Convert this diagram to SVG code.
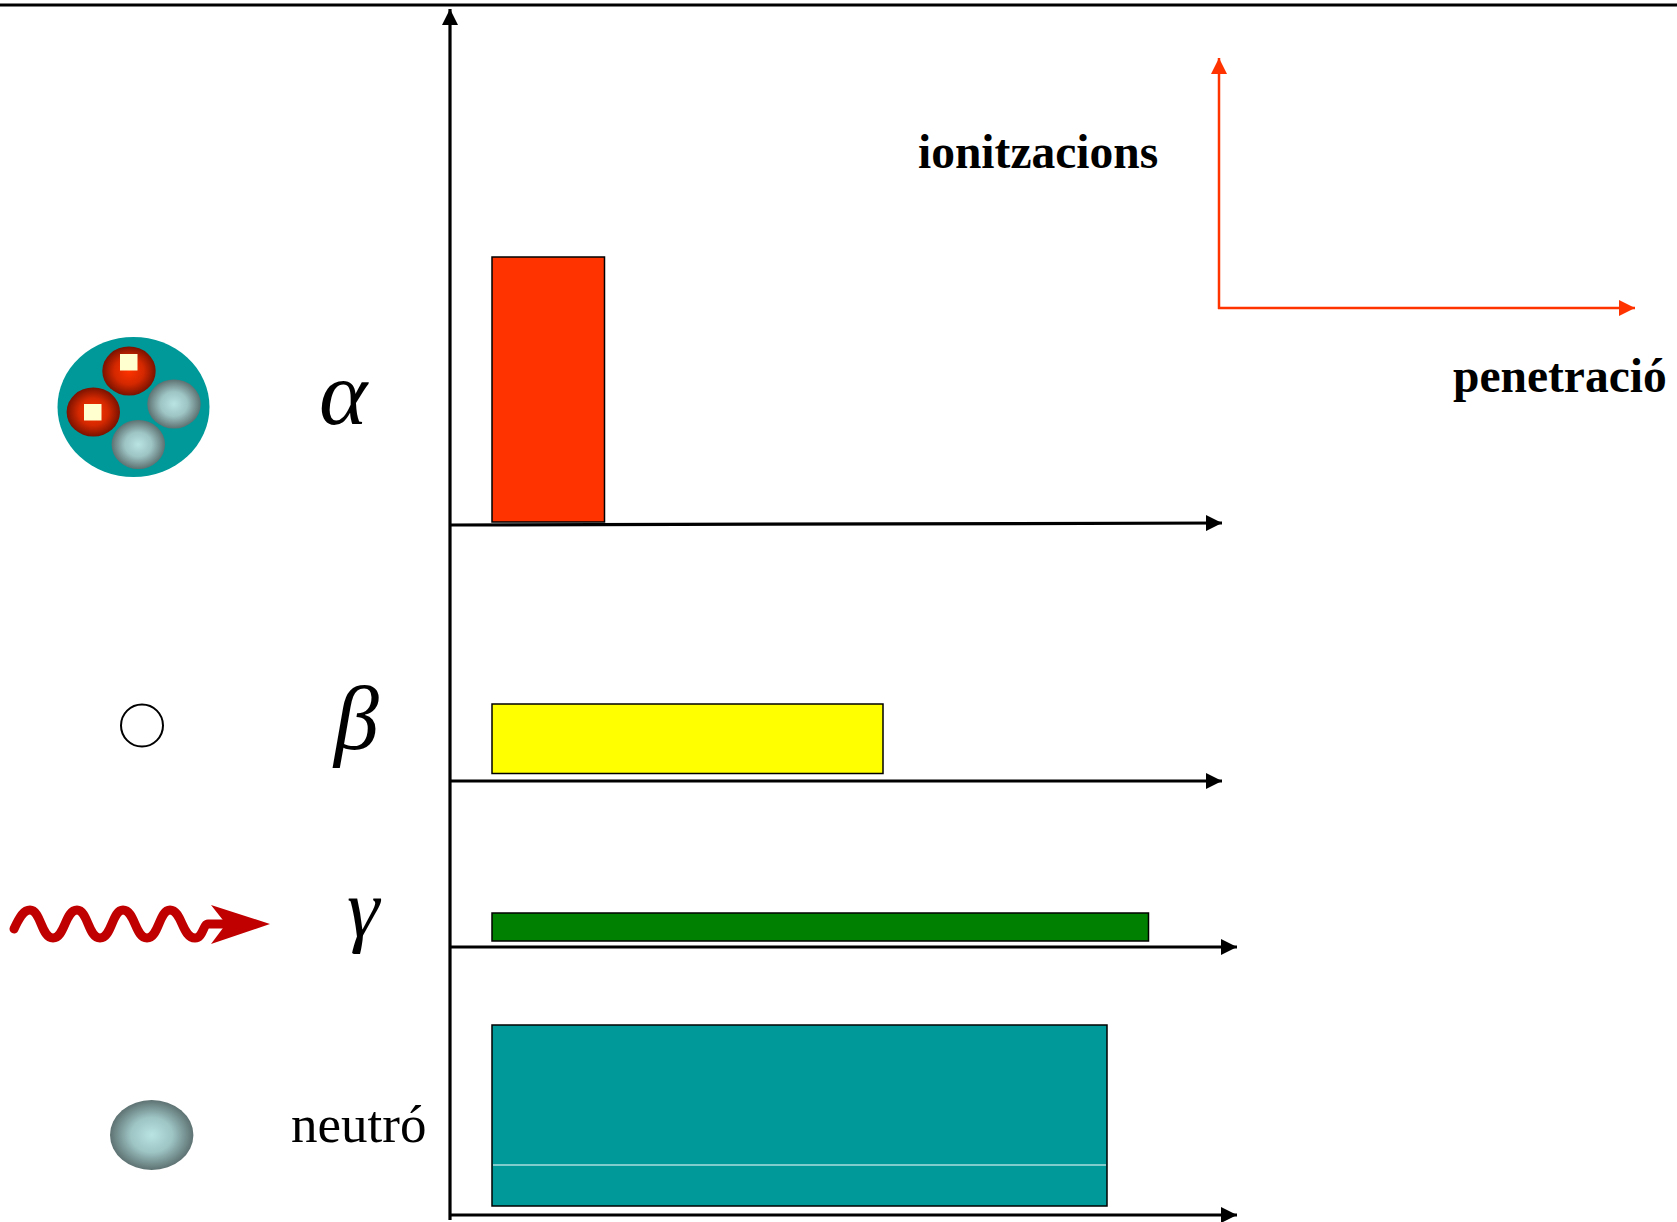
<svg xmlns="http://www.w3.org/2000/svg" width="1677" height="1222" viewBox="0 0 1677 1222">
  <defs>
    <radialGradient id="protonFill" cx="50%" cy="50%" r="50%">
      <stop offset="0" stop-color="#FF3300"/>
      <stop offset="0.55" stop-color="#D42800"/>
      <stop offset="1" stop-color="#7A1200"/>
    </radialGradient>
    <radialGradient id="neutronFill" cx="50%" cy="50%" r="50%">
      <stop offset="0" stop-color="#B9E3E3"/>
      <stop offset="0.5" stop-color="#9EC4C4"/>
      <stop offset="1" stop-color="#5E7272"/>
    </radialGradient>
    <marker id="headBlack" viewBox="0 0 10 10" refX="10" refY="5" markerWidth="16" markerHeight="16" markerUnits="userSpaceOnUse" orient="auto">
      <path d="M0,0 L10,5 L0,10 Z" fill="#000"/>
    </marker>
    <marker id="headRed" viewBox="0 0 10 10" refX="10" refY="5" markerWidth="16" markerHeight="16" markerUnits="userSpaceOnUse" orient="auto">
      <path d="M0,0 L10,5 L0,10 Z" fill="#FF3300"/>
    </marker>
  </defs>
  <style>
    .axis { stroke: #000; stroke-width: 3.2; fill: none; }
    .legend { stroke: #FF3300; stroke-width: 2.5; fill: none; }
    .bar { stroke: #000; stroke-width: 1.5; }
    .greek { font-family: "Liberation Serif", "Times New Roman", serif; font-style: italic; fill: #000; }
    .label { font-family: "Liberation Serif", "Times New Roman", serif; font-weight: bold; font-size: 47.5px; fill: #000; }
    .name { font-family: "Liberation Serif", "Times New Roman", serif; font-size: 53px; fill: #000; }
    .hi { fill: #FFFFD0; }
  </style>

  <rect width="1677" height="1222" fill="#fff"/>

  <!-- rule along the top edge -->
  <line x1="0" y1="5" x2="1677" y2="5" stroke="#000" stroke-width="3"/>

  <!-- axes -->
  <g id="connectors">
    <line class="axis" x1="450" y1="1220" x2="450" y2="9" marker-end="url(#headBlack)"/>
    <line class="axis" x1="450" y1="525" x2="1222" y2="523" marker-end="url(#headBlack)"/>
    <line class="axis" x1="450" y1="781" x2="1222" y2="781" marker-end="url(#headBlack)"/>
    <line class="axis" x1="450" y1="947" x2="1237" y2="947" marker-end="url(#headBlack)"/>
    <line class="axis" x1="450" y1="1215" x2="1237" y2="1215" marker-end="url(#headBlack)"/>
    <line class="legend" x1="1219" y1="309" x2="1219" y2="58" marker-end="url(#headRed)"/>
    <line class="legend" x1="1218" y1="308" x2="1635" y2="308" marker-end="url(#headRed)"/>
  </g>

  <!-- legend labels -->
  <g id="legend">
    <text class="label" x="918" y="168">ionitzacions</text>
    <text class="label" x="1453" y="392">penetració</text>
  </g>

  <!-- alpha particle -->
  <g id="alpha">
    <ellipse cx="133.5" cy="407" rx="76" ry="70" fill="#009999"/>
    <ellipse cx="129" cy="371" rx="26.7" ry="24.5" fill="url(#protonFill)"/>
    <ellipse cx="93.3" cy="412" rx="26.7" ry="24.5" fill="url(#protonFill)"/>
    <ellipse cx="174" cy="404" rx="26.7" ry="24.5" fill="url(#neutronFill)"/>
    <ellipse cx="138.3" cy="444.5" rx="26.7" ry="24.5" fill="url(#neutronFill)"/>
    <rect class="hi" x="120" y="354" width="17.5" height="16.5"/>
    <rect class="hi" x="84" y="404" width="17.5" height="16.5"/>
    <text class="greek" x="319" y="424" font-size="92">α</text>
    <rect class="bar" x="492" y="257" width="112.5" height="265" fill="#FF3300"/>
  </g>

  <!-- beta particle -->
  <g id="beta">
    <circle cx="142" cy="725.5" r="21" fill="#fff" stroke="#000" stroke-width="2"/>
    <text class="greek" x="334" y="749" font-size="90">β</text>
    <rect class="bar" x="492" y="704" width="391" height="69.5" fill="#FFFF00"/>
  </g>

  <!-- gamma ray -->
  <g id="gamma">
    <path d="M14,929 C20,916 24,910 30,910 C41,910 41,938 53,938 C65,938 65,910 77,910 C88,910 88,938 100,938 C112,938 112,910 123,910 C135,910 135,938 147,938 C159,938 159,910 170,910 C182,910 182,938 195,938 C203,938 203,924 208,924 L224,924" fill="none" stroke="#C00000" stroke-width="9" stroke-linecap="round" stroke-linejoin="round"/>
    <polygon points="211,905 270,924 211,944 226,924" fill="#C00000"/>
    <text class="greek" x="347" y="936" font-size="82">γ</text>
    <rect class="bar" x="492" y="913" width="656.5" height="28" fill="#008000"/>
  </g>

  <!-- neutron -->
  <g id="neutron">
    <ellipse cx="151.7" cy="1135" rx="41.7" ry="35" fill="url(#neutronFill)"/>
    <text class="name" x="291" y="1142">neutró</text>
    <rect class="bar" x="492" y="1025" width="615" height="181" fill="#009999"/>
    <line x1="493" y1="1165" x2="1106" y2="1165" stroke="#fff" stroke-width="1.2"/>
  </g>
</svg>
